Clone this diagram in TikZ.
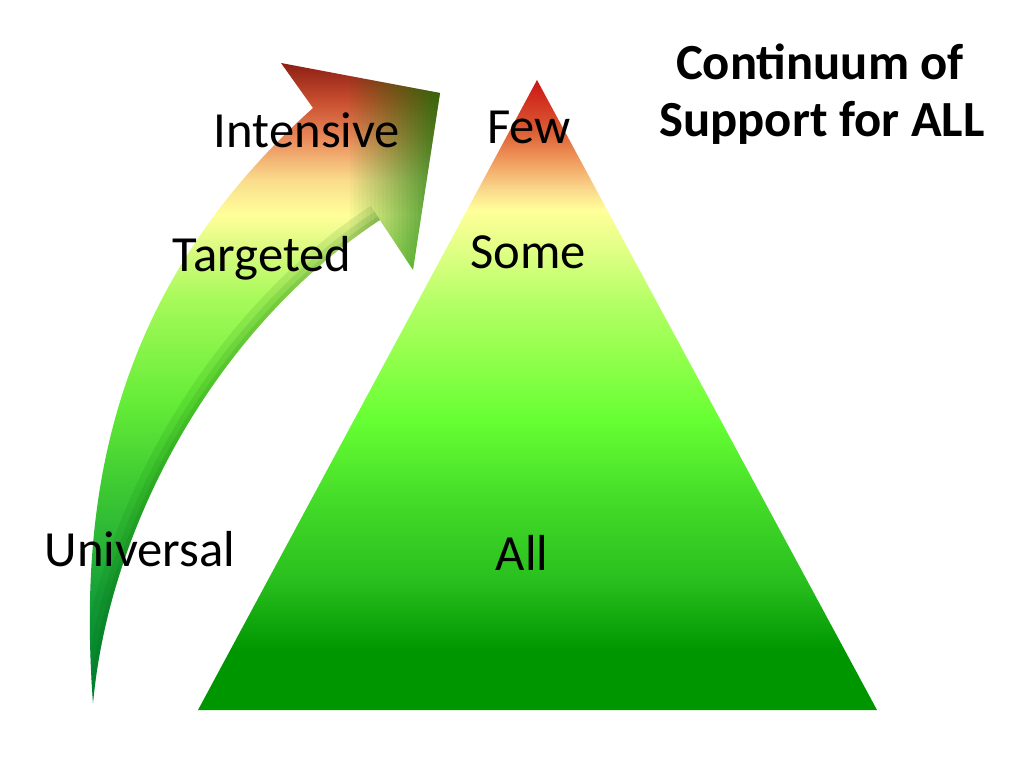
\documentclass[tikz,border=0pt]{standalone}
\usepackage{fontspec}
\setmainfont{Carlito}
\usetikzlibrary{positioning}
% colour runs of the two shapes (25bp = bottom, 75bp = top)
\pgfdeclareverticalshading{pyramid}{100bp}{
    rgb(0bp)=(0,0.59,0); rgb(25bp)=(0,0.59,0); rgb(29.8bp)=(0,0.59,0);
    rgb(35.3bp)=(0.16,0.75,0.12); rgb(41.7bp)=(0.27,0.86,0.16);
    rgb(48bp)=(0.40,1,0.20); rgb(53.6bp)=(0.59,1,0.31);
    rgb(57.5bp)=(0.71,1,0.40); rgb(61.5bp)=(0.88,1,0.52);
    rgb(64.7bp)=(1,1,0.60); rgb(66.3bp)=(0.98,0.85,0.55);
    rgb(68.7bp)=(0.94,0.60,0.36); rgb(71bp)=(0.86,0.36,0.20);
    rgb(75bp)=(0.80,0.08,0.08); rgb(100bp)=(0.80,0.08,0.08)}
\pgfdeclareverticalshading{rise}{100bp}{
    rgb(0bp)=(0,0.55,0.25); rgb(25bp)=(0,0.55,0.25);
    rgb(33bp)=(0.08,0.62,0.22); rgb(42.4bp)=(0.25,0.80,0.20);
    rgb(48.7bp)=(0.40,0.93,0.22); rgb(56.5bp)=(0.65,0.98,0.35);
    rgb(60.4bp)=(0.85,0.98,0.50); rgb(63.1bp)=(1,1,0.60);
    rgb(65.9bp)=(0.98,0.86,0.55); rgb(69bp)=(0.92,0.55,0.36);
    rgb(72.1bp)=(0.78,0.30,0.18);
    rgb(75bp)=(0.55,0.12,0.08); rgb(100bp)=(0.55,0.12,0.08)}
\tikzset{
    tier/.style={font=\fontsize{36}{43}\selectfont, inner sep=0pt, anchor=base}, % level words
    headline/.style={tier, font=\fontsize{36}{43}\selectfont\bfseries}, % title lines
    rim/.style={green!35!black, line width=#1, opacity=0.10}, % soft dark edge of the arrow
}

\begin{document}
\begin{tikzpicture}[x=0.025cm, y=-0.025cm]
    \useasboundingbox (0,0) rectangle (1024,768);
    % curved arrow
    \begin{scope}
        \clip (93,703) .. controls (78,500) and (110,290) .. (313,108)
            -- (281,63) -- (440,93) -- (413,270) -- (380,220)
            .. controls (220,325) and (110,520) .. (93,703) -- cycle;
        \shade[shading=rise] (60,63) rectangle (450,703);
        % greenish right side of the head, in thin strips
        \foreach \i in {1,...,25}
            \fill[green!45!black, opacity=\i/32] (346+4*\i,60) rectangle (350+4*\i,280);
        \foreach \w in {6,14,24}
            \draw[rim=\w] (380,220) .. controls (220,325) and (110,520) .. (93,703);
    \end{scope}
    % pyramid
    \coordinate (apex) at (537,80);
    \coordinate (baseL) at (198,710);
    \coordinate (baseR) at (877,710);
    \shade[shading=pyramid] (apex) -- (baseR) -- (baseL) -- cycle;
    % words
    \node[tier] (intensive) at (307,148) {Intensive};
    \node[tier] (targeted) at (262,271) {Targeted};
    \node[tier] (universal) at (140,566) {Universal};
    \node[tier] (few) at (529,144) {Few};
    \node[tier] (some) at (528,268) {Some};
    \node[tier] (all) at (522,570) {All};
    \node[headline] (titleA) at (820,80) {Continuum of};
    \node[headline] (titleB) at (822,137) {Support for ALL};
\end{tikzpicture}
\end{document}
